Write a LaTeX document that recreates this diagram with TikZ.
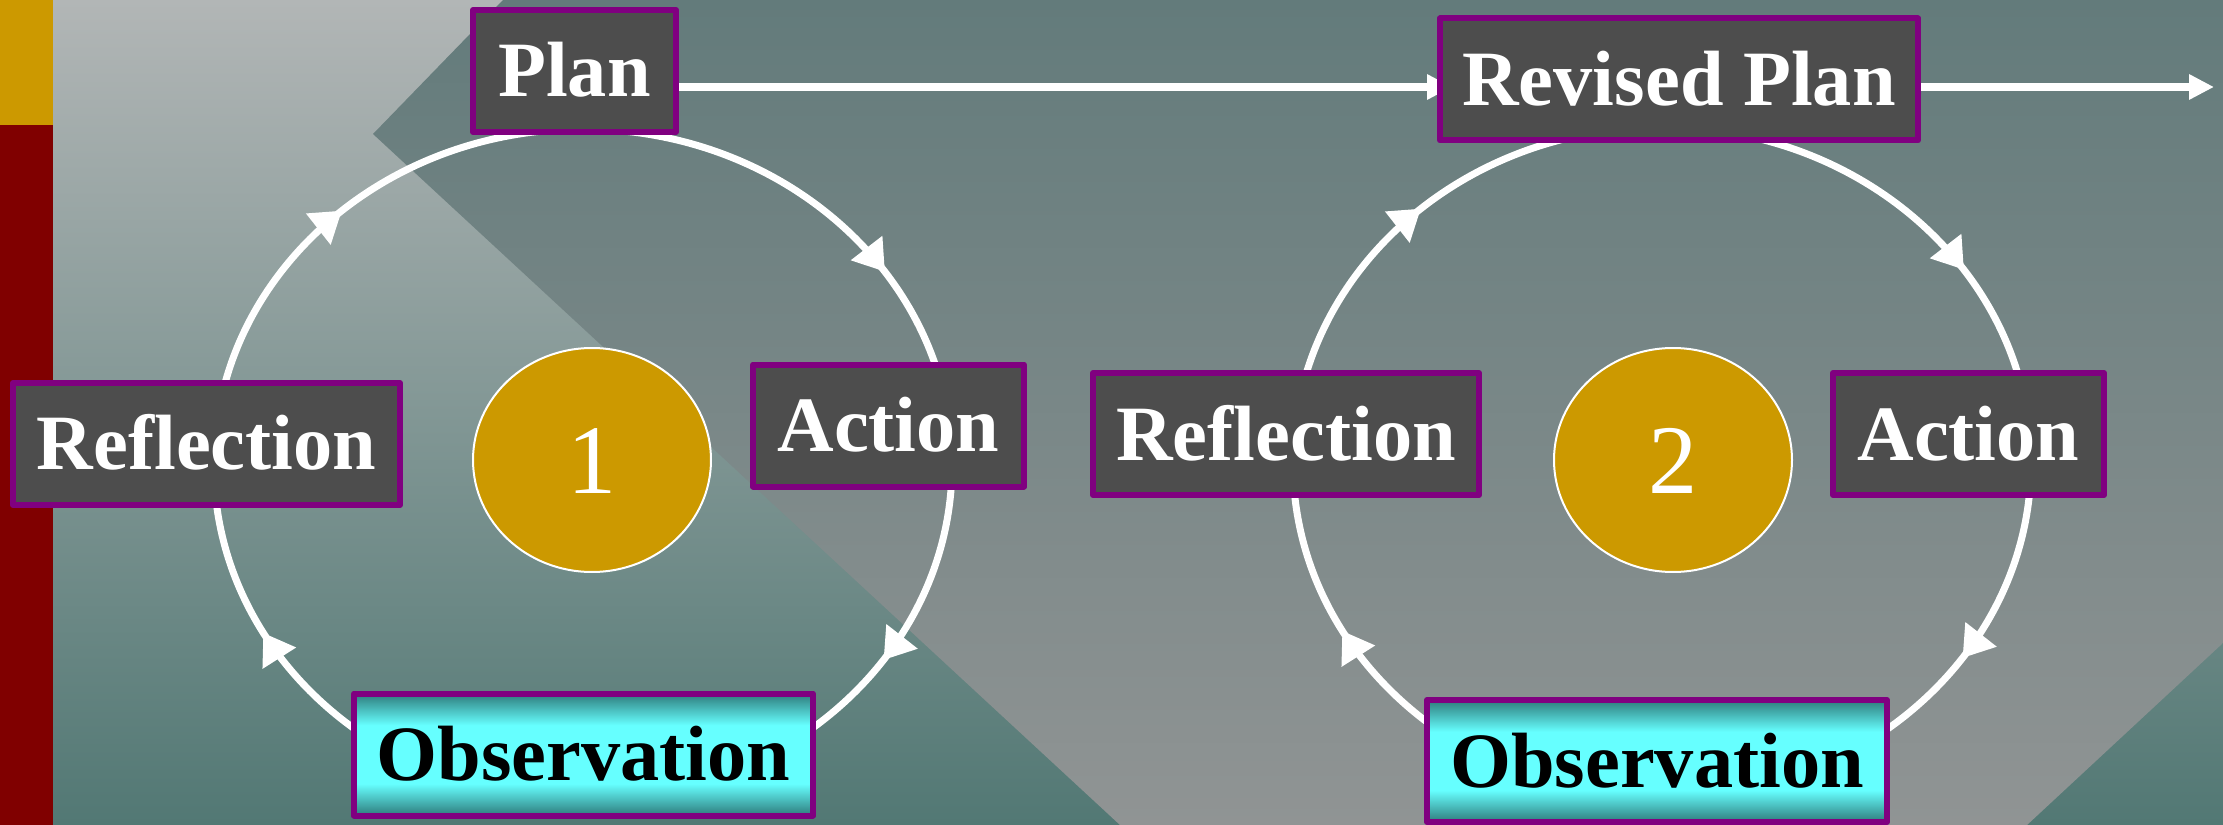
\documentclass[tikz,border=0pt]{standalone}
\usepackage{fontspec}
\setmainfont{Liberation Serif}
\usetikzlibrary{arrows.meta,shapes.geometric,decorations.markings}

\definecolor{boxgray}{HTML}{4D4D4D}
\definecolor{boxedge}{HTML}{800080}
\definecolor{ochre}{HTML}{CC9900}
\definecolor{barred}{HTML}{800000}
\definecolor{obsdark}{HTML}{2E7B7B}
\definecolor{obslight}{HTML}{66FFFF}
\definecolor{bgtop}{HTML}{B2B6B6}
\definecolor{bgbot}{HTML}{527874}
\definecolor{slabtop}{HTML}{637B7B}
\definecolor{slabbot}{HTML}{909494}

\pgfdeclareverticalshading{obsshade}{100bp}{color(0bp)=(obsdark); color(25bp)=(obsdark); color(38bp)=(obslight); color(62bp)=(obslight); color(75bp)=(obsdark); color(100bp)=(obsdark)}

\pgfdeclarelayer{back}
\pgfdeclarelayer{wires}
\pgfsetlayers{back,wires,main}

\begin{document}
\begin{tikzpicture}[line cap=round,line join=round,x=0.1mm,y=-0.1mm,
  stage/.style={draw=boxedge,line width=0.6mm,fill=boxgray,text=white,inner sep=0pt,
    font=\fontsize{22.3}{26}\selectfont\bfseries,text height=5.2mm,text depth=0pt,minimum height=12.2mm},
  watch/.style={stage,text=black,shade,shading=obsshade},
  turn/.style={ellipse,draw=white,line width=0.2mm,fill=ochre,text=white,inner sep=0pt,
    font=\fontsize{28}{32}\selectfont,text height=6.7mm,text depth=0pt,minimum width=23.8mm,minimum height=22.4mm},
  ring/.style={color=white,line width=0.7mm,
    decoration={markings,
      mark=at position 0.094 with {\arrowreversed{Triangle[length=3mm,width=3.8mm]}},
      mark=at position 0.367 with {\arrowreversed{Triangle[length=3mm,width=3.8mm]}},
      mark=at position 0.580 with {\arrowreversed{Triangle[length=3mm,width=3.8mm]}},
      mark=at position 0.905 with {\arrowreversed{Triangle[length=3mm,width=3.8mm]}}},
    postaction={decorate}},
  flow/.style={color=white,line width=0.8mm,line cap=butt,-{Triangle[length=2.5mm,width=2.4mm]}}]

\useasboundingbox (0,0) rectangle (2223,825);

\node[stage,minimum width=20.3mm] (plan1) at (574.5,71) {Plan};
\node[stage,minimum width=47.8mm] (rplan) at (1679,79.5) {Revised Plan};
\node[stage,minimum width=38.7mm] (refl1) at (206.5,444) {Reflection};
\node[stage,minimum width=27.1mm] (act1) at (888.5,425.5) {Action};
\node[watch,minimum width=45.9mm] (obs1) at (583.5,754.5) {Observation};
\node[stage,minimum width=38.6mm] (refl2) at (1286,434) {Reflection};
\node[stage,minimum width=27.1mm] (act2) at (1968.5,434) {Action};
\node[watch,minimum width=46mm] (obs2) at (1657,761) {Observation};
\node[turn] (turn1) at (592,460) {1};
\node[turn] (turn2) at (1673,460) {2};
\coordinate (cyc1) at (583,465);
\coordinate (cyc2) at (1662,463);
\coordinate (out) at (2214,87);

\begin{pgfonlayer}{back}
\shade[top color=bgtop,bottom color=bgbot] (0,0) rectangle (2223,825);
\shade[top color=slabtop,bottom color=slabbot] (503,0) -- (373,134) -- (1120,825) -- (2027,825) -- (2223,643) -- (2223,0) -- cycle;
\fill[ochre] (0,0) rectangle (53,125);
\fill[barred] (0,125) rectangle (53,825);
\end{pgfonlayer}

\begin{pgfonlayer}{wires}
\draw[ring] (cyc1) ellipse [x radius=36.9mm,y radius=33.6mm];
\draw[ring] (cyc2) ellipse [x radius=36.9mm,y radius=33.6mm];
\draw[flow,shorten >=-1.5mm] (plan1.east |- out) -- (rplan.west |- out);
\draw[flow] (rplan.east |- out) -- (out);
\end{pgfonlayer}
\end{tikzpicture}
\end{document}
